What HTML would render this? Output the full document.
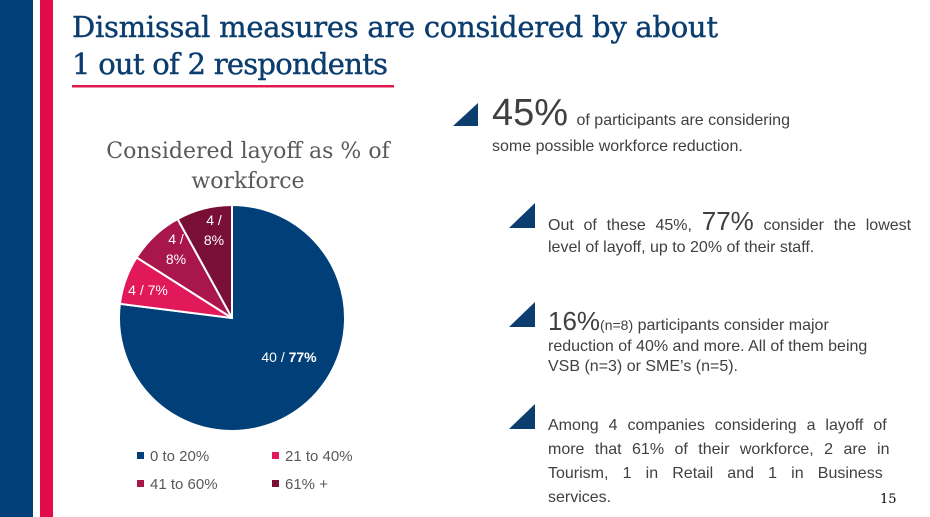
<!DOCTYPE html>
<html><head><meta charset="utf-8"><style>
html,body{margin:0;padding:0;background:#fff;width:930px;height:517px;overflow:hidden}
svg{display:block}
.s{font-family:"Liberation Sans",sans-serif}
.t{font-family:"DejaVu Serif","Liberation Serif",serif}
</style></head><body>
<svg width="930" height="517" viewBox="0 0 930 517">
<rect x="0" y="0" width="33" height="517" fill="#003f78"/>
<rect x="40" y="0" width="13" height="517" fill="#e20a4b"/>
<text class="t" x="72" y="37" font-size="29" fill="#0b3d6e" stroke="#0b3d6e" stroke-width="0.4" textLength="646">Dismissal measures are considered by about</text>
<text class="t" x="72" y="74" font-size="29" fill="#0b3d6e" stroke="#0b3d6e" stroke-width="0.4" textLength="316">1 out of 2 respondents</text>
<rect x="72" y="85" width="322" height="2.5" fill="#e2194f"/>
<text class="t" x="248" y="158" font-size="22" fill="#595959" text-anchor="middle">Considered layoff as % of</text>
<text class="t" x="248" y="188" font-size="22" fill="#595959" text-anchor="middle">workforce</text>
<g stroke="#fff" stroke-width="2">
<path d="M232,318 L232,205 A113,113 0 1 1 119.9,303.8 Z" fill="#003f78"/>
<path d="M232,318 L119.9,303.8 A113,113 0 0 1 136.6,257.5 Z" fill="#e1185a"/>
<path d="M232,318 L136.6,257.5 A113,113 0 0 1 177.6,219 Z" fill="#a8164c"/>
<path d="M232,318 L177.6,219 A113,113 0 0 1 232,205 Z" fill="#7a0f36"/>
</g>
<g class="s" fill="#fff" font-size="14" text-anchor="middle">
<text x="289" y="362">40 / <tspan font-weight="bold">77%</tspan></text>
<text x="148" y="295">4 / 7%</text>
<text x="176" y="244">4 /</text><text x="176" y="264">8%</text>
<text x="214" y="225">4 /</text><text x="214" y="245">8%</text>
</g>
<g class="s" font-size="15" fill="#595959">
<rect x="137" y="452" width="7" height="7" fill="#003f78"/><text x="150" y="461">0 to 20%</text>
<rect x="272" y="452" width="7" height="7" fill="#e1185a"/><text x="285" y="461">21 to 40%</text>
<rect x="137" y="480" width="7" height="7" fill="#a8164c"/><text x="150" y="489">41 to 60%</text>
<rect x="272" y="480" width="7" height="7" fill="#7a0f36"/><text x="285" y="489">61% +</text>
</g>
<g fill="#0b3d6e">
<polygon points="453,126 478,126 478,103"/>
<polygon points="509,228 535,228 535,203"/>
<polygon points="509,327 535,327 535,302"/>
<polygon points="509,429 535,429 535,404"/>
</g>
<g class="s" fill="#404040" font-size="16">
<text x="492" y="125"><tspan font-size="38">45%</tspan> <tspan dx="4">of participants are considering</tspan></text>
<text x="492" y="151">some possible workforce reduction.</text>
<text x="548" y="230" word-spacing="5.3">Out of these 45%, <tspan font-size="26">77%</tspan> consider the lowest</text>
<text x="548" y="252">level of layoff, up to 20% of their staff.</text>
<text x="548" y="330"><tspan font-size="26">16%</tspan><tspan font-size="14">(n=8)</tspan> participants consider major</text>
<text x="548" y="351">reduction of 40% and more. All of them being</text>
<text x="548" y="371">VSB (n=3) or SME’s (n=5).</text>
<text x="548" y="430" word-spacing="5.5">Among 4 companies considering a layoff of</text>
<text x="548" y="454" word-spacing="6">more that 61% of their workforce, 2 are in</text>
<text x="548" y="478" word-spacing="9.7">Tourism, 1 in Retail and 1 in Business</text>
<text x="548" y="502">services.</text>
</g>
<text class="t" x="880" y="503" font-size="13" fill="#000">15</text>
</svg>
</body></html>
